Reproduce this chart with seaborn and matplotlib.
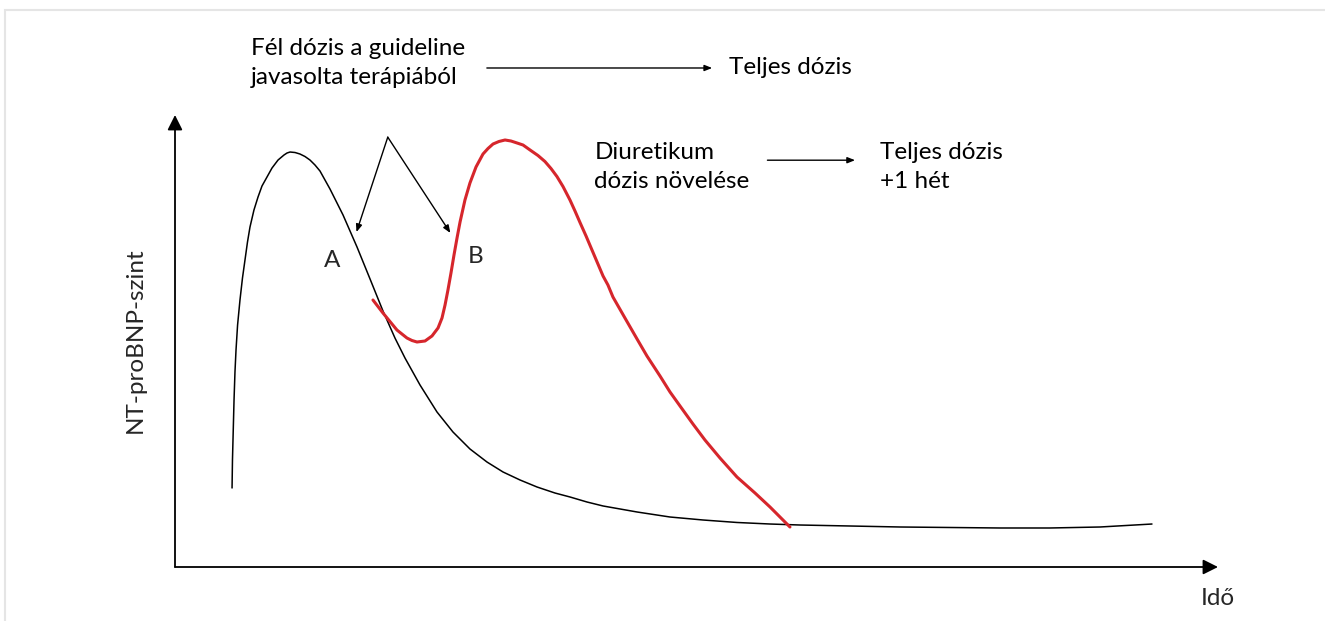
import matplotlib
matplotlib.use('Agg')
import matplotlib.pyplot as plt
import pandas as pd
import seaborn as sns
from matplotlib.patches import Rectangle

sns.set_theme(style='white')
plt.rcParams['font.family'] = ['Lato', 'DejaVu Sans']

# NT-proBNP level over time (arbitrary units, 0-100 on both axes)
base_time = [5.47, 5.51, 5.56, 5.61, 5.66, 5.75, 5.85, 6.00, 6.23, 6.47, 6.71,
             6.95, 7.19, 7.57, 7.96, 8.34, 8.82, 9.30, 9.88, 10.45, 10.74,
             11.03, 11.51, 11.98, 12.46, 12.94, 13.42, 13.90, 14.86, 16.11,
             17.45, 18.70, 19.94, 21.09, 22.05, 23.49, 25.12, 26.65, 28.28,
             29.91, 31.45, 33.08, 34.71, 36.43, 37.87, 39.50, 41.04, 44.30,
             47.46, 50.62, 53.88, 57.05, 59.92, 64.72, 69.51, 74.31, 79.10,
             83.89, 88.69, 93.67]
base_level = [17.48, 23.67, 28.10, 32.52, 36.95, 43.14, 48.01, 53.54, 59.07,
              63.94, 67.92, 71.90, 75.22, 78.98, 81.86, 84.29, 86.28, 88.27,
              90.04, 91.15, 91.59, 91.81, 91.70, 91.37, 90.82, 90.04, 88.94,
              87.61, 83.63, 77.88, 70.80, 63.72, 56.64, 50.66, 46.24, 40.27,
              34.29, 29.87, 26.11, 23.23, 21.02, 19.25, 17.70, 16.37, 15.49,
              14.38, 13.50, 12.17, 11.06, 10.40, 9.85, 9.51, 9.29, 9.07, 8.85,
              8.74, 8.63, 8.63, 8.85, 9.51]

# rebound after early up-titration (B)
rebound_time = [18.98, 19.94, 21.28, 22.24, 22.72, 23.20, 23.97, 24.64, 25.22,
                25.60, 25.89, 26.17, 26.46, 26.75, 27.04, 27.33, 27.80, 28.28,
                28.86, 29.53, 30.01, 30.49, 31.06, 31.64, 32.21, 32.79, 33.37,
                34.04, 34.80, 35.47, 36.05, 36.62, 37.20, 37.87, 38.35, 38.83,
                39.41, 39.98, 41.04, 41.51, 41.99, 43.14, 44.30, 45.25, 46.50,
                47.46, 48.42, 49.66, 50.81, 52.25, 53.88, 55.61, 57.05, 58.96]
rebound_level = [59.07, 56.19, 52.43, 50.66, 50.11, 49.78, 50.00, 51.11, 52.88,
                 55.09, 57.96, 61.28, 65.04, 69.03, 72.79, 76.33, 81.19, 84.96,
                 88.50, 91.37, 92.59, 93.58, 94.14, 94.47, 94.25, 93.81, 93.36,
                 92.26, 91.04, 89.71, 88.16, 86.39, 84.18, 81.19, 78.76, 76.22,
                 73.23, 70.13, 64.38, 62.39, 59.73, 55.09, 50.44, 46.68, 42.26,
                 38.72, 35.62, 31.64, 28.10, 24.12, 19.91, 16.37, 13.27, 8.85]

df_base = pd.DataFrame({'time': base_time, 'level': base_level})
df_reb = pd.DataFrame({'time': rebound_time, 'level': rebound_level})

fig = plt.figure(figsize=(13.25, 6.21), dpi=100)
ax = fig.add_axes([175 / 1325, 54 / 621, 1043 / 1325, 452 / 621])
ax.set_xlim(0, 100)
ax.set_ylim(0, 100)
ax.axis('off')

# light frame around the figure
fig.patches.append(Rectangle((5 / 1325, -0.05), 1.1, 0.984 + 0.05,
                             transform=fig.transFigure, fill=False,
                             edgecolor='#e5e5e5', linewidth=1.5))

sns.lineplot(data=df_base, x='time', y='level', color='black', linewidth=1.1,
             estimator=None, sort=False, ax=ax)
sns.lineplot(data=df_reb, x='time', y='level', color='#d6262c', linewidth=2.2,
             estimator=None, sort=False, ax=ax)

# axis arrows
big = dict(arrowstyle='-|>,head_length=0.6,head_width=0.3', color='black',
           lw=1.3, shrinkA=0, shrinkB=0, mutation_scale=15)
ax.annotate('', xy=(100, 0), xytext=(0, 0), arrowprops=big, annotation_clip=False)
ax.annotate('', xy=(0, 100), xytext=(0, 0), arrowprops=big, annotation_clip=False)

small = dict(arrowstyle='-|>,head_length=0.45,head_width=0.18', color='black',
             lw=1.0, shrinkA=0, shrinkB=0, mutation_scale=10)
ax.annotate('', xy=(51.5, 110.4), xytext=(29.9, 110.4), arrowprops=small,
            annotation_clip=False)
ax.annotate('', xy=(65.2, 90.0), xytext=(56.8, 90.0), arrowprops=small,
            annotation_clip=False)
ax.annotate('', xy=(17.4, 74.1), xytext=(20.4, 95.1), arrowprops=small,
            annotation_clip=False)
ax.annotate('', xy=(26.4, 73.9), xytext=(20.4, 95.1), arrowprops=small,
            annotation_clip=False)

fs = 17.5
txt = dict(fontsize=fs, color='black', va='center', ha='left',
           linespacing=1.45, clip_on=False)
ax.text(7.3, 111.5, 'Fél dózis a guideline\njavasolta terápiából', **txt)
ax.text(53.1, 110.4, 'Teljes dózis', **txt)
ax.text(40.2, 88.5, 'Diuretikum\ndózis növelése', **txt)
ax.text(67.6, 88.5, 'Teljes dózis\n+1 hét', **txt)
ax.text(15.1, 67.9, 'A', fontsize=fs, ha='center', va='center')
ax.text(28.8, 68.8, 'B', fontsize=fs, ha='center', va='center')
ax.text(-3.8, 50.2, 'NT-proBNP-szint', fontsize=fs, rotation=90,
        ha='center', va='center', clip_on=False)
ax.text(100, -6.9, 'Idő', fontsize=fs, ha='center', va='center', clip_on=False)

fig.savefig('out.png', dpi=100)
